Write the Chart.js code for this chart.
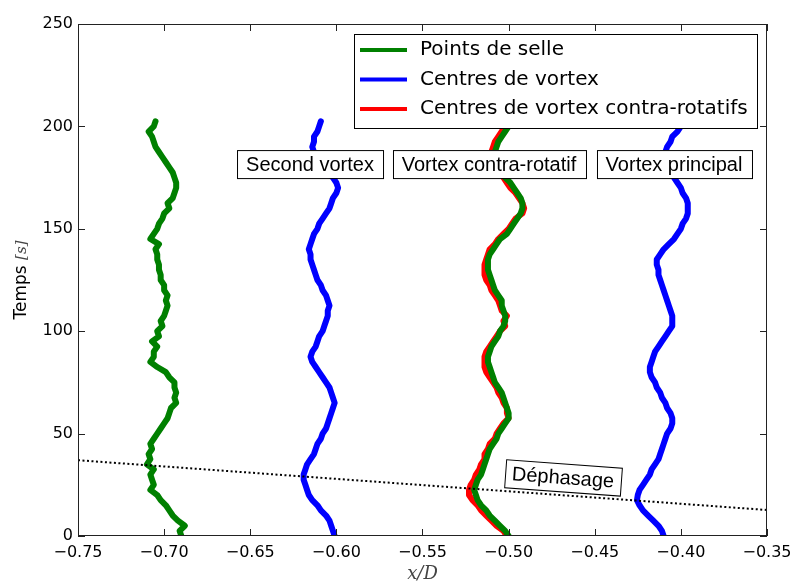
<!DOCTYPE html>
<html>
<head>
<meta charset="utf-8">
<script src="https://cdn.jsdelivr.net/npm/chart.js@4.4.1/dist/chart.umd.min.js"></script>
<style>
  html, body { margin: 0; padding: 0; background: #fff; }
</style>
</head>
<body>
<canvas id="chart" width="793" height="585"></canvas>
<script>
// temps (s), commun a toutes les courbes
const temps = [0, 2.5, 5, 7.5, 10, 12.5, 15, 17.5, 20, 22.5, 25, 27.5, 30, 32.5, 35, 37.5, 40, 42.5, 45, 47.5,
  50, 52.5, 55, 57.5, 60, 62.5, 65, 67.5, 70, 72.5, 75, 77.5, 80, 82.5, 85, 87.5, 90, 92.5, 95, 97.5,
  100, 102.5, 105, 107.5, 110, 112.5, 115, 117.5, 120, 122.5, 125, 127.5, 130, 132.5, 135, 137.5, 140, 142.5, 145, 147.5,
  150, 152.5, 155, 157.5, 160, 162.5, 165, 167.5, 170, 172.5, 175, 177.5, 180, 182.5, 185, 187.5, 190, 192.5, 195, 197.5, 200, 202.5];

// points de selle, cote du second vortex
const selleGauche = [-0.690, -0.691, -0.688, -0.692, -0.695, -0.697, -0.699, -0.702, -0.704, -0.708, -0.706, -0.707, -0.708, -0.706, -0.710, -0.708, -0.709, -0.707, -0.708, -0.706,
  -0.704, -0.702, -0.700, -0.698, -0.697, -0.696, -0.693, -0.694, -0.693, -0.694, -0.694, -0.697, -0.699, -0.704, -0.708, -0.706, -0.706, -0.704, -0.707, -0.703,
  -0.704, -0.701, -0.702, -0.700, -0.699, -0.698, -0.699, -0.698, -0.700, -0.700, -0.702, -0.702, -0.703, -0.703, -0.704, -0.704, -0.705, -0.703, -0.708, -0.706,
  -0.704, -0.703, -0.701, -0.700, -0.697, -0.698, -0.695, -0.694, -0.693, -0.693, -0.694, -0.695, -0.697, -0.699, -0.701, -0.703, -0.705, -0.706, -0.707, -0.709, -0.706, -0.705];

// points de selle, cote du vortex contra-rotatif
const selleDroite = [-0.500, -0.502, -0.505, -0.508, -0.511, -0.513, -0.516, -0.518, -0.519, -0.520, -0.519, -0.518, -0.516, -0.515, -0.514, -0.513, -0.512, -0.511, -0.509, -0.507,
  -0.506, -0.504, -0.502, -0.500, -0.500, -0.501, -0.502, -0.503, -0.504, -0.506, -0.508, -0.509, -0.510, -0.511, -0.512, -0.512, -0.511, -0.510, -0.508, -0.506,
  -0.505, -0.503, -0.502, -0.502, -0.503, -0.504, -0.504, -0.506, -0.508, -0.509, -0.510, -0.511, -0.512, -0.512, -0.512, -0.511, -0.509, -0.507, -0.505, -0.501,
  -0.499, -0.497, -0.495, -0.493, -0.492, -0.492, -0.493, -0.495, -0.497, -0.499, -0.502, -0.504, -0.506, -0.507, -0.508, -0.508, -0.507, -0.506, -0.504, -0.502, -0.500, -0.499];

// centres de vortex : second vortex et vortex principal
const secondVortex = [-0.601, -0.602, -0.603, -0.604, -0.606, -0.609, -0.611, -0.614, -0.616, -0.617, -0.618, -0.619, -0.619, -0.618, -0.617, -0.615, -0.613, -0.612, -0.611, -0.609,
  -0.608, -0.606, -0.605, -0.604, -0.603, -0.602, -0.601, -0.602, -0.603, -0.604, -0.606, -0.608, -0.610, -0.612, -0.614, -0.615, -0.614, -0.612, -0.611, -0.610,
  -0.608, -0.607, -0.606, -0.605, -0.605, -0.604, -0.605, -0.606, -0.608, -0.609, -0.611, -0.612, -0.613, -0.614, -0.615, -0.615, -0.616, -0.615, -0.614, -0.613,
  -0.611, -0.610, -0.608, -0.606, -0.604, -0.603, -0.602, -0.600, -0.599, -0.600, -0.602, -0.605, -0.608, -0.610, -0.612, -0.613, -0.614, -0.613, -0.613, -0.611, -0.610, -0.609];

const vortexPrincipal = [-0.410, -0.411, -0.413, -0.416, -0.419, -0.422, -0.424, -0.4255, -0.425, -0.424, -0.422, -0.420, -0.418, -0.417, -0.415, -0.413, -0.412, -0.411, -0.410, -0.409,
  -0.408, -0.406, -0.405, -0.405, -0.406, -0.408, -0.409, -0.411, -0.412, -0.414, -0.415, -0.417, -0.418, -0.418, -0.417, -0.416, -0.415, -0.413, -0.411, -0.409,
  -0.407, -0.405, -0.405, -0.405, -0.406, -0.407, -0.408, -0.409, -0.410, -0.411, -0.412, -0.413, -0.413, -0.414, -0.414, -0.412, -0.410, -0.407, -0.404, -0.402,
  -0.400, -0.399, -0.397, -0.396, -0.396, -0.396, -0.397, -0.399, -0.400, -0.402, -0.404, -0.406, -0.407, -0.408, -0.409, -0.409, -0.408, -0.406, -0.405, -0.402, -0.400, -0.399];

// centres de vortex contra-rotatifs
const contraRotatif = [-0.501, -0.503, -0.507, -0.510, -0.513, -0.516, -0.518, -0.521, -0.523, -0.523, -0.522, -0.520, -0.519, -0.517, -0.516, -0.514, -0.514, -0.512, -0.511, -0.508,
  -0.507, -0.505, -0.503, -0.500, -0.501, -0.501, -0.503, -0.504, -0.506, -0.507, -0.509, -0.511, -0.513, -0.514, -0.514, -0.514, -0.513, -0.511, -0.509, -0.507,
  -0.505, -0.502, -0.503, -0.501, -0.504, -0.505, -0.506, -0.508, -0.510, -0.511, -0.513, -0.514, -0.514, -0.514, -0.513, -0.512, -0.511, -0.508, -0.506, -0.503,
  -0.500, -0.498, -0.496, -0.492, -0.491, -0.492, -0.494, -0.496, -0.499, -0.501, -0.503, -0.505, -0.507, -0.509, -0.510, -0.510, -0.509, -0.508, -0.506, -0.504, -0.502, -0.501];

// droite de dephasage
const dephasageX = [-0.75, -0.35];
const dephasageT = [37, 12.7];

// etiquettes du graphique
const legendLabels = ['Points de selle', 'Centres de vortex', 'Centres de vortex contra-rotatifs'];
const annotTexts = ['Second vortex', 'Vortex contra-rotatif', 'Vortex principal', 'Déphasage'];
const annotX = [-0.6153, -0.5114, -0.404, -0.4684];
const annotT = [181.6, 181.6, 181.6, 28.6];

const xTicks = [-0.75, -0.70, -0.65, -0.60, -0.55, -0.50, -0.45, -0.40, -0.35];
const yTicks = [0, 50, 100, 150, 200, 250];

const GREEN = '#008000', BLUE = '#0000ff', RED = '#ff0000';

function pts(xs, ts) {
  return xs.map((v, i) => ({ x: v, y: ts[i] }));
}

function curve(label, xs, color, order) {
  return {
    label: label,
    data: pts(xs, temps),
    borderColor: color,
    backgroundColor: color,
    borderWidth: 6,
    borderJoinStyle: 'round',
    borderCapStyle: 'round',
    pointRadius: 0,
    showLine: true,
    tension: 0,
    order: order
  };
}

const datasets = [
  curve(legendLabels[0], selleGauche, GREEN, 1),
  curve(legendLabels[1], secondVortex, BLUE, 1),
  curve(legendLabels[2], contraRotatif, RED, 3),
  curve('', selleDroite, GREEN, 1),
  curve('', vortexPrincipal, BLUE, 1),
  {
    label: '',
    data: pts(dephasageX, dephasageT),
    borderColor: '#000',
    borderWidth: 2,
    borderDash: [2, 2.5],
    pointRadius: 0,
    showLine: true,
    order: 0
  }
];

const decorPlugin = {
  id: 'decor',
  afterDraw(chart) {
    const ctx = chart.ctx;
    const a = chart.chartArea;
    const xs = chart.scales.x, ys = chart.scales.y;
    ctx.save();

    // cadre
    ctx.strokeStyle = '#222';
    ctx.lineWidth = 1;
    ctx.strokeRect(a.left + 0.5, a.top + 0.5, a.right - a.left - 1, a.bottom - a.top - 1);

    // graduations vers l'interieur sur les quatre cotes
    const tl = 7;
    ctx.beginPath();
    xTicks.forEach(v => {
      const px = Math.round(xs.getPixelForValue(v)) + 0.5;
      ctx.moveTo(px, a.bottom); ctx.lineTo(px, a.bottom - tl);
      ctx.moveTo(px, a.top); ctx.lineTo(px, a.top + tl);
    });
    yTicks.forEach(v => {
      const py = Math.round(ys.getPixelForValue(v)) + 0.5;
      ctx.moveTo(a.left, py); ctx.lineTo(a.left + tl, py);
      ctx.moveTo(a.right, py); ctx.lineTo(a.right - tl, py);
    });
    ctx.stroke();

    // titre de l'axe y : "Temps [s]"
    ctx.save();
    ctx.translate(22, (a.top + a.bottom) / 2);
    ctx.rotate(-Math.PI / 2);
    ctx.textBaseline = 'middle';
    ctx.fillStyle = '#000';
    ctx.font = '17px "DejaVu Sans"';
    const w1 = ctx.measureText('Temps ').width;
    ctx.font = 'italic 15px "DejaVu Serif"';
    const w2 = ctx.measureText('[s]').width;
    let sx = -(w1 + w2) / 2;
    ctx.font = '17px "DejaVu Sans"';
    ctx.textAlign = 'left';
    ctx.fillText('Temps ', sx, 0);
    ctx.font = 'italic 15px "DejaVu Serif"';
    ctx.fillStyle = '#444';
    ctx.fillText('[s]', sx + w1, 0);
    ctx.restore();

    // boites de texte
    const angle = Math.atan2(
      ys.getPixelForValue(dephasageT[1]) - ys.getPixelForValue(dephasageT[0]),
      xs.getPixelForValue(dephasageX[1]) - xs.getPixelForValue(dephasageX[0]));
    ctx.font = '20px "Liberation Sans", Arial, sans-serif';
    annotTexts.forEach((txt, i) => {
      const cx = xs.getPixelForValue(annotX[i]);
      const cy = ys.getPixelForValue(annotT[i]);
      const tw = ctx.measureText(txt).width;
      const padX = i === 3 ? 7 : 9;
      const bw = tw + 2 * padX, bh = 28;
      ctx.save();
      ctx.translate(cx, cy);
      if (i === 3) ctx.rotate(angle);
      ctx.fillStyle = '#fff';
      ctx.fillRect(-bw / 2, -bh / 2, bw, bh);
      ctx.strokeStyle = '#000';
      ctx.lineWidth = 1;
      ctx.strokeRect(Math.round(-bw / 2) + 0.5, -bh / 2 + 0.5, Math.round(bw), bh);
      ctx.fillStyle = '#000';
      ctx.textAlign = 'center';
      ctx.textBaseline = 'middle';
      ctx.fillText(txt, 0, 1);
      ctx.restore();
    });

    // legende
    ctx.font = '20px "DejaVu Sans"';
    let maxW = 0;
    legendLabels.forEach(l => { maxW = Math.max(maxW, ctx.measureText(l).width); });
    const lineLen = 47;
    const boxW = 6 + lineLen + 13 + maxW + 9;
    const boxR = a.right - 10;
    const boxL = Math.round(boxR - boxW);
    const boxT = a.top + 10;
    const boxH = 94;
    ctx.fillStyle = '#fff';
    ctx.fillRect(boxL, boxT, boxR - boxL, boxH);
    ctx.strokeStyle = '#000';
    ctx.lineWidth = 1;
    ctx.strokeRect(boxL + 0.5, boxT + 0.5, boxR - boxL, boxH);
    const colors = [GREEN, BLUE, RED];
    legendLabels.forEach((l, i) => {
      const y = boxT + 16 + i * 29.5;
      ctx.strokeStyle = colors[i];
      ctx.lineWidth = 4;
      ctx.beginPath();
      ctx.moveTo(boxL + 6, y);
      ctx.lineTo(boxL + 6 + lineLen, y);
      ctx.stroke();
      ctx.fillStyle = '#000';
      ctx.textAlign = 'left';
      ctx.textBaseline = 'middle';
      ctx.fillText(l, boxL + 6 + lineLen + 13, y);
    });

    ctx.restore();
  }
};

new Chart(document.getElementById('chart'), {
  type: 'scatter',
  data: { datasets: datasets },
  options: {
    responsive: false,
    animation: false,
    devicePixelRatio: 1,
    layout: { padding: { left: 0, top: 24, right: 26, bottom: 0 } },
    plugins: {
      legend: { display: false },
      tooltip: { enabled: false }
    },
    scales: {
      x: {
        type: 'linear',
        min: -0.75,
        max: -0.35,
        grid: { display: false, drawTicks: false },
        border: { display: false },
        afterBuildTicks: s => { s.ticks = xTicks.map(v => ({ value: v })); },
        afterFit: s => { s.height = 49; s.paddingLeft = 0; s.paddingRight = 0; },
        ticks: {
          autoSkip: false,
          maxRotation: 0,
          padding: 7,
          color: '#000',
          font: { family: 'DejaVu Sans', size: 16 },
          callback: v => v.toFixed(2).replace('-', '\u2212')
        },
        title: {
          display: true,
          text: 'x/D',
          color: '#444',
          font: { family: 'DejaVu Serif', style: 'italic', size: 18 },
          padding: { top: 0, bottom: 0 }
        }
      },
      y: {
        type: 'linear',
        min: 0,
        max: 250,
        grid: { display: false, drawTicks: false },
        border: { display: false },
        afterBuildTicks: s => { s.ticks = yTicks.map(v => ({ value: v })); },
        afterFit: s => { s.width = 78; s.paddingTop = 0; s.paddingBottom = 0; },
        ticks: {
          padding: 5,
          color: '#000',
          font: { family: 'DejaVu Sans', size: 16 },
          callback: v => String(v)
        }
      }
    }
  },
  plugins: [decorPlugin]
});
</script>
</body>
</html>
